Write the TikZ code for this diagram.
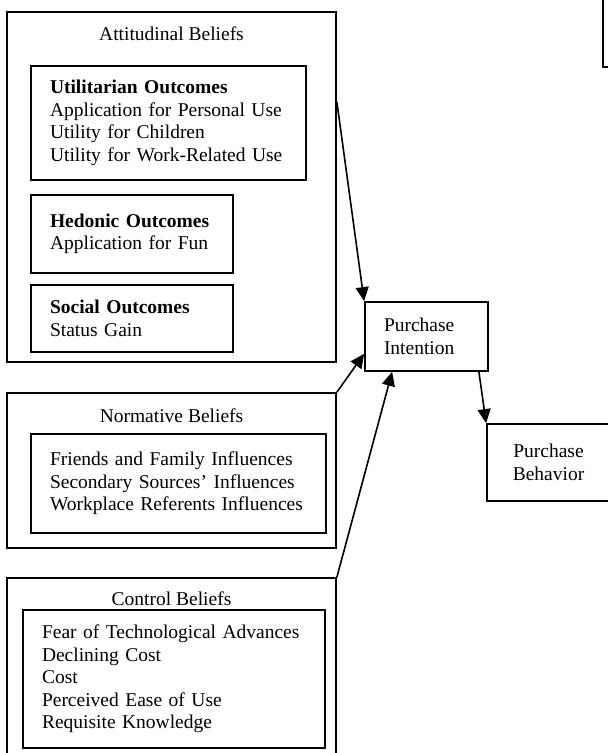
\documentclass[tikz,border=0pt]{standalone}
\usepackage{fontspec}
\setmainfont{Liberation Serif}
\usetikzlibrary{arrows.meta, positioning, calc}

\newcommand{\boxfont}{\fontsize{19.5pt}{22.5pt}\selectfont}

\begin{document}
\begin{tikzpicture}[
    x=1pt, y=-1pt,
    >={Triangle[length=14pt, width=13pt]},
    outer/.style = {draw, line width=1.8pt, inner sep=0pt},
    inner/.style = {draw, line width=1.8pt, align=left, inner xsep=19pt, inner ysep=0pt, font=\boxfont},
    title/.style = {anchor=base, inner sep=0pt, font=\boxfont},
    block/.style = {draw, line width=1.8pt, inner ysep=0pt, font=\boxfont},
    link/.style  = {->, line width=1.6pt}
]
    \useasboundingbox (0,0) rectangle (608,753);
    \clip (0,0) rectangle (608,753);

    % belief groups
    \node[outer, minimum width=329pt, minimum height=350pt] (att) at (171.5,187) {};
    \node[title] (attT) at (171.5,40.5) {Attitudinal Beliefs};
    \node[inner, text width=237pt, minimum height=114pt] (util) at (168.5,123)
        {\textbf{Utilitarian Outcomes}\\Application for Personal Use\\Utility for Children\\Utility for Work-Related Use};
    \node[inner, text width=164pt, minimum height=78pt] (hed) at (132,234)
        {\textbf{Hedonic Outcomes}\\Application for Fun};
    \node[inner, text width=164pt, minimum height=67pt] (soc) at (132,318.5)
        {\textbf{Social Outcomes}\\Status Gain};

    \node[outer, minimum width=329pt, minimum height=155pt] (norm) at (171.5,470.5) {};
    \node[title] (normT) at (171.5,422) {Normative Beliefs};
    \node[inner, text width=257pt, minimum height=99pt] (normIn) at (178.5,483.5)
        {Friends and Family Influences\\Secondary Sources' Influences\\Workplace Referents Influences};

    \node[outer, minimum width=329pt, minimum height=192pt] (ctrl) at (171.5,674) {};
    \node[title] (ctrlT) at (171.5,605) {Control Beliefs};
    \node[inner, text width=264pt, minimum height=138pt] (ctrlIn) at (174,679)
        {Fear of Technological Advances\\Declining Cost\\Cost\\Perceived Ease of Use\\Requisite Knowledge};

    % intention and behavior
    \node[inner, text width=85pt, minimum height=69pt] (pi) at (426.5,336.5) {Purchase\\Intention};
    \node[block, align=center, minimum width=123pt, minimum height=77pt] (pb) at (548.5,462.5) {Purchase\\Behavior};
    \node[outer, minimum width=74pt, minimum height=74pt] (note) at (640,30) {};

    \draw[link] ($(att.north east)+(0,91)$) -- (pi.north west);
    \draw[link] (norm.north east) -- ($(pi.south west)+(0,-18)$);
    \draw[link] (ctrl.north east) -- ($(pi.south west)+(28,0)$);
    \draw[link] ($(pi.south east)+(-10,0)$) -- (pb.north west);
\end{tikzpicture}
\end{document}
